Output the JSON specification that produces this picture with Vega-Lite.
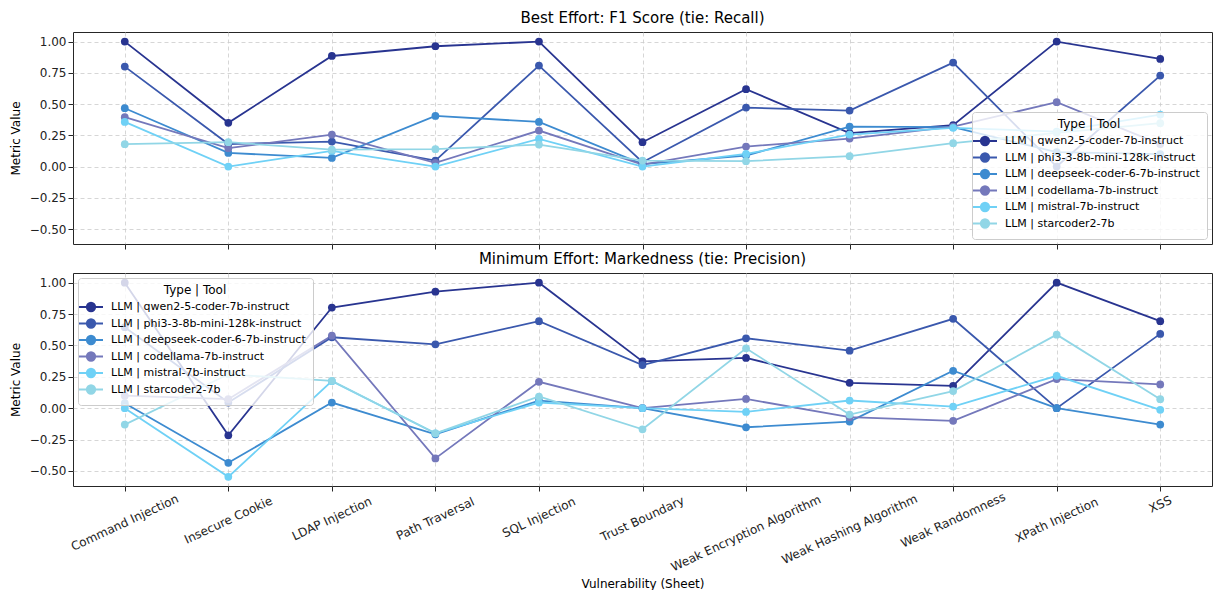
{
  "$schema": "https://vega.github.io/schema/vega-lite/v6.json",
  "background": "white",
  "padding": {"left": 8, "top": 10, "right": 0, "bottom": 0},
  "spacing": 1,
  "datasets": {
    "f1": [
      {"tool": "LLM | qwen2-5-coder-7b-instruct", "vuln": "Command Injection", "value": 1.0},
      {"tool": "LLM | qwen2-5-coder-7b-instruct", "vuln": "Insecure Cookie", "value": 0.35},
      {"tool": "LLM | qwen2-5-coder-7b-instruct", "vuln": "LDAP Injection", "value": 0.885},
      {"tool": "LLM | qwen2-5-coder-7b-instruct", "vuln": "Path Traversal", "value": 0.963},
      {"tool": "LLM | qwen2-5-coder-7b-instruct", "vuln": "SQL Injection", "value": 1.0},
      {"tool": "LLM | qwen2-5-coder-7b-instruct", "vuln": "Trust Boundary", "value": 0.195},
      {"tool": "LLM | qwen2-5-coder-7b-instruct", "vuln": "Weak Encryption Algorithm", "value": 0.619},
      {"tool": "LLM | qwen2-5-coder-7b-instruct", "vuln": "Weak Hashing Algorithm", "value": 0.267},
      {"tool": "LLM | qwen2-5-coder-7b-instruct", "vuln": "Weak Randomness", "value": 0.331},
      {"tool": "LLM | qwen2-5-coder-7b-instruct", "vuln": "XPath Injection", "value": 1.0},
      {"tool": "LLM | qwen2-5-coder-7b-instruct", "vuln": "XSS", "value": 0.861},
      {"tool": "LLM | phi3-3-8b-mini-128k-instruct", "vuln": "Command Injection", "value": 0.8},
      {"tool": "LLM | phi3-3-8b-mini-128k-instruct", "vuln": "Insecure Cookie", "value": 0.18},
      {"tool": "LLM | phi3-3-8b-mini-128k-instruct", "vuln": "LDAP Injection", "value": 0.2},
      {"tool": "LLM | phi3-3-8b-mini-128k-instruct", "vuln": "Path Traversal", "value": 0.048},
      {"tool": "LLM | phi3-3-8b-mini-128k-instruct", "vuln": "SQL Injection", "value": 0.808},
      {"tool": "LLM | phi3-3-8b-mini-128k-instruct", "vuln": "Trust Boundary", "value": 0.035},
      {"tool": "LLM | phi3-3-8b-mini-128k-instruct", "vuln": "Weak Encryption Algorithm", "value": 0.472},
      {"tool": "LLM | phi3-3-8b-mini-128k-instruct", "vuln": "Weak Hashing Algorithm", "value": 0.448},
      {"tool": "LLM | phi3-3-8b-mini-128k-instruct", "vuln": "Weak Randomness", "value": 0.832},
      {"tool": "LLM | phi3-3-8b-mini-128k-instruct", "vuln": "XPath Injection", "value": 0.0},
      {"tool": "LLM | phi3-3-8b-mini-128k-instruct", "vuln": "XSS", "value": 0.728},
      {"tool": "LLM | deepseek-coder-6-7b-instruct", "vuln": "Command Injection", "value": 0.467},
      {"tool": "LLM | deepseek-coder-6-7b-instruct", "vuln": "Insecure Cookie", "value": 0.109},
      {"tool": "LLM | deepseek-coder-6-7b-instruct", "vuln": "LDAP Injection", "value": 0.069},
      {"tool": "LLM | deepseek-coder-6-7b-instruct", "vuln": "Path Traversal", "value": 0.405},
      {"tool": "LLM | deepseek-coder-6-7b-instruct", "vuln": "SQL Injection", "value": 0.357},
      {"tool": "LLM | deepseek-coder-6-7b-instruct", "vuln": "Trust Boundary", "value": 0.02},
      {"tool": "LLM | deepseek-coder-6-7b-instruct", "vuln": "Weak Encryption Algorithm", "value": 0.088},
      {"tool": "LLM | deepseek-coder-6-7b-instruct", "vuln": "Weak Hashing Algorithm", "value": 0.32},
      {"tool": "LLM | deepseek-coder-6-7b-instruct", "vuln": "Weak Randomness", "value": 0.315},
      {"tool": "LLM | deepseek-coder-6-7b-instruct", "vuln": "XPath Injection", "value": 0.115},
      {"tool": "LLM | deepseek-coder-6-7b-instruct", "vuln": "XSS", "value": 0.1},
      {"tool": "LLM | codellama-7b-instruct", "vuln": "Command Injection", "value": 0.395},
      {"tool": "LLM | codellama-7b-instruct", "vuln": "Insecure Cookie", "value": 0.147},
      {"tool": "LLM | codellama-7b-instruct", "vuln": "LDAP Injection", "value": 0.256},
      {"tool": "LLM | codellama-7b-instruct", "vuln": "Path Traversal", "value": 0.03},
      {"tool": "LLM | codellama-7b-instruct", "vuln": "SQL Injection", "value": 0.288},
      {"tool": "LLM | codellama-7b-instruct", "vuln": "Trust Boundary", "value": 0.016},
      {"tool": "LLM | codellama-7b-instruct", "vuln": "Weak Encryption Algorithm", "value": 0.16},
      {"tool": "LLM | codellama-7b-instruct", "vuln": "Weak Hashing Algorithm", "value": 0.224},
      {"tool": "LLM | codellama-7b-instruct", "vuln": "Weak Randomness", "value": 0.32},
      {"tool": "LLM | codellama-7b-instruct", "vuln": "XPath Injection", "value": 0.515},
      {"tool": "LLM | codellama-7b-instruct", "vuln": "XSS", "value": 0.18},
      {"tool": "LLM | mistral-7b-instruct", "vuln": "Command Injection", "value": 0.357},
      {"tool": "LLM | mistral-7b-instruct", "vuln": "Insecure Cookie", "value": 0.0},
      {"tool": "LLM | mistral-7b-instruct", "vuln": "LDAP Injection", "value": 0.125},
      {"tool": "LLM | mistral-7b-instruct", "vuln": "Path Traversal", "value": 0.0},
      {"tool": "LLM | mistral-7b-instruct", "vuln": "SQL Injection", "value": 0.221},
      {"tool": "LLM | mistral-7b-instruct", "vuln": "Trust Boundary", "value": 0.0},
      {"tool": "LLM | mistral-7b-instruct", "vuln": "Weak Encryption Algorithm", "value": 0.101},
      {"tool": "LLM | mistral-7b-instruct", "vuln": "Weak Hashing Algorithm", "value": 0.256},
      {"tool": "LLM | mistral-7b-instruct", "vuln": "Weak Randomness", "value": 0.31},
      {"tool": "LLM | mistral-7b-instruct", "vuln": "XPath Injection", "value": 0.28},
      {"tool": "LLM | mistral-7b-instruct", "vuln": "XSS", "value": 0.416},
      {"tool": "LLM | starcoder2-7b", "vuln": "Command Injection", "value": 0.179},
      {"tool": "LLM | starcoder2-7b", "vuln": "Insecure Cookie", "value": 0.195},
      {"tool": "LLM | starcoder2-7b", "vuln": "LDAP Injection", "value": 0.135},
      {"tool": "LLM | starcoder2-7b", "vuln": "Path Traversal", "value": 0.139},
      {"tool": "LLM | starcoder2-7b", "vuln": "SQL Injection", "value": 0.176},
      {"tool": "LLM | starcoder2-7b", "vuln": "Trust Boundary", "value": 0.048},
      {"tool": "LLM | starcoder2-7b", "vuln": "Weak Encryption Algorithm", "value": 0.043},
      {"tool": "LLM | starcoder2-7b", "vuln": "Weak Hashing Algorithm", "value": 0.083},
      {"tool": "LLM | starcoder2-7b", "vuln": "Weak Randomness", "value": 0.187},
      {"tool": "LLM | starcoder2-7b", "vuln": "XPath Injection", "value": 0.27},
      {"tool": "LLM | starcoder2-7b", "vuln": "XSS", "value": 0.347}
    ],
    "mk": [
      {"tool": "LLM | qwen2-5-coder-7b-instruct", "vuln": "Command Injection", "value": 1.0},
      {"tool": "LLM | qwen2-5-coder-7b-instruct", "vuln": "Insecure Cookie", "value": -0.216},
      {"tool": "LLM | qwen2-5-coder-7b-instruct", "vuln": "LDAP Injection", "value": 0.802},
      {"tool": "LLM | qwen2-5-coder-7b-instruct", "vuln": "Path Traversal", "value": 0.928},
      {"tool": "LLM | qwen2-5-coder-7b-instruct", "vuln": "SQL Injection", "value": 1.0},
      {"tool": "LLM | qwen2-5-coder-7b-instruct", "vuln": "Trust Boundary", "value": 0.373},
      {"tool": "LLM | qwen2-5-coder-7b-instruct", "vuln": "Weak Encryption Algorithm", "value": 0.4},
      {"tool": "LLM | qwen2-5-coder-7b-instruct", "vuln": "Weak Hashing Algorithm", "value": 0.202},
      {"tool": "LLM | qwen2-5-coder-7b-instruct", "vuln": "Weak Randomness", "value": 0.178},
      {"tool": "LLM | qwen2-5-coder-7b-instruct", "vuln": "XPath Injection", "value": 1.0},
      {"tool": "LLM | qwen2-5-coder-7b-instruct", "vuln": "XSS", "value": 0.693},
      {"tool": "LLM | phi3-3-8b-mini-128k-instruct", "vuln": "Command Injection", "value": 0.645},
      {"tool": "LLM | phi3-3-8b-mini-128k-instruct", "vuln": "Insecure Cookie", "value": 0.045},
      {"tool": "LLM | phi3-3-8b-mini-128k-instruct", "vuln": "LDAP Injection", "value": 0.565},
      {"tool": "LLM | phi3-3-8b-mini-128k-instruct", "vuln": "Path Traversal", "value": 0.509},
      {"tool": "LLM | phi3-3-8b-mini-128k-instruct", "vuln": "SQL Injection", "value": 0.693},
      {"tool": "LLM | phi3-3-8b-mini-128k-instruct", "vuln": "Trust Boundary", "value": 0.344},
      {"tool": "LLM | phi3-3-8b-mini-128k-instruct", "vuln": "Weak Encryption Algorithm", "value": 0.557},
      {"tool": "LLM | phi3-3-8b-mini-128k-instruct", "vuln": "Weak Hashing Algorithm", "value": 0.458},
      {"tool": "LLM | phi3-3-8b-mini-128k-instruct", "vuln": "Weak Randomness", "value": 0.712},
      {"tool": "LLM | phi3-3-8b-mini-128k-instruct", "vuln": "XPath Injection", "value": 0.0},
      {"tool": "LLM | phi3-3-8b-mini-128k-instruct", "vuln": "XSS", "value": 0.592},
      {"tool": "LLM | deepseek-coder-6-7b-instruct", "vuln": "Command Injection", "value": 0.04},
      {"tool": "LLM | deepseek-coder-6-7b-instruct", "vuln": "Insecure Cookie", "value": -0.435},
      {"tool": "LLM | deepseek-coder-6-7b-instruct", "vuln": "LDAP Injection", "value": 0.045},
      {"tool": "LLM | deepseek-coder-6-7b-instruct", "vuln": "Path Traversal", "value": -0.208},
      {"tool": "LLM | deepseek-coder-6-7b-instruct", "vuln": "SQL Injection", "value": 0.06},
      {"tool": "LLM | deepseek-coder-6-7b-instruct", "vuln": "Trust Boundary", "value": 0.0},
      {"tool": "LLM | deepseek-coder-6-7b-instruct", "vuln": "Weak Encryption Algorithm", "value": -0.152},
      {"tool": "LLM | deepseek-coder-6-7b-instruct", "vuln": "Weak Hashing Algorithm", "value": -0.107},
      {"tool": "LLM | deepseek-coder-6-7b-instruct", "vuln": "Weak Randomness", "value": 0.298},
      {"tool": "LLM | deepseek-coder-6-7b-instruct", "vuln": "XPath Injection", "value": 0.0},
      {"tool": "LLM | deepseek-coder-6-7b-instruct", "vuln": "XSS", "value": -0.131},
      {"tool": "LLM | codellama-7b-instruct", "vuln": "Command Injection", "value": 0.1},
      {"tool": "LLM | codellama-7b-instruct", "vuln": "Insecure Cookie", "value": 0.072},
      {"tool": "LLM | codellama-7b-instruct", "vuln": "LDAP Injection", "value": 0.578},
      {"tool": "LLM | codellama-7b-instruct", "vuln": "Path Traversal", "value": -0.4},
      {"tool": "LLM | codellama-7b-instruct", "vuln": "SQL Injection", "value": 0.21},
      {"tool": "LLM | codellama-7b-instruct", "vuln": "Trust Boundary", "value": 0.0},
      {"tool": "LLM | codellama-7b-instruct", "vuln": "Weak Encryption Algorithm", "value": 0.074},
      {"tool": "LLM | codellama-7b-instruct", "vuln": "Weak Hashing Algorithm", "value": -0.072},
      {"tool": "LLM | codellama-7b-instruct", "vuln": "Weak Randomness", "value": -0.101},
      {"tool": "LLM | codellama-7b-instruct", "vuln": "XPath Injection", "value": 0.232},
      {"tool": "LLM | codellama-7b-instruct", "vuln": "XSS", "value": 0.189},
      {"tool": "LLM | mistral-7b-instruct", "vuln": "Command Injection", "value": 0.0},
      {"tool": "LLM | mistral-7b-instruct", "vuln": "Insecure Cookie", "value": -0.547},
      {"tool": "LLM | mistral-7b-instruct", "vuln": "LDAP Injection", "value": 0.215},
      {"tool": "LLM | mistral-7b-instruct", "vuln": "Path Traversal", "value": -0.2},
      {"tool": "LLM | mistral-7b-instruct", "vuln": "SQL Injection", "value": 0.045},
      {"tool": "LLM | mistral-7b-instruct", "vuln": "Trust Boundary", "value": 0.0},
      {"tool": "LLM | mistral-7b-instruct", "vuln": "Weak Encryption Algorithm", "value": -0.03},
      {"tool": "LLM | mistral-7b-instruct", "vuln": "Weak Hashing Algorithm", "value": 0.061},
      {"tool": "LLM | mistral-7b-instruct", "vuln": "Weak Randomness", "value": 0.013},
      {"tool": "LLM | mistral-7b-instruct", "vuln": "XPath Injection", "value": 0.258},
      {"tool": "LLM | mistral-7b-instruct", "vuln": "XSS", "value": -0.013},
      {"tool": "LLM | starcoder2-7b", "vuln": "Command Injection", "value": -0.131},
      {"tool": "LLM | starcoder2-7b", "vuln": "Insecure Cookie", "value": 0.27},
      {"tool": "LLM | starcoder2-7b", "vuln": "LDAP Injection", "value": 0.218},
      {"tool": "LLM | starcoder2-7b", "vuln": "Path Traversal", "value": -0.2},
      {"tool": "LLM | starcoder2-7b", "vuln": "SQL Injection", "value": 0.093},
      {"tool": "LLM | starcoder2-7b", "vuln": "Trust Boundary", "value": -0.168},
      {"tool": "LLM | starcoder2-7b", "vuln": "Weak Encryption Algorithm", "value": 0.477},
      {"tool": "LLM | starcoder2-7b", "vuln": "Weak Hashing Algorithm", "value": -0.051},
      {"tool": "LLM | starcoder2-7b", "vuln": "Weak Randomness", "value": 0.136},
      {"tool": "LLM | starcoder2-7b", "vuln": "XPath Injection", "value": 0.586},
      {"tool": "LLM | starcoder2-7b", "vuln": "XSS", "value": 0.072}
    ]
  },
  "resolve": {"scale": {"color": "independent"}, "legend": {"color": "independent"}},
  "vconcat": [
    {
      "data": {"name": "f1"},
      "title": {"text": "Best Effort: F1 Score (tie: Recall)"},
      "width": 1139,
      "height": 212,
      "encoding": {
        "x": {
          "field": "vuln", "type": "nominal",
          "scale": {"type": "point", "padding": 0.5, "domain": ["Command Injection", "Insecure Cookie", "LDAP Injection", "Path Traversal", "SQL Injection", "Trust Boundary", "Weak Encryption Algorithm", "Weak Hashing Algorithm", "Weak Randomness", "XPath Injection", "XSS"]},
          "axis": {"labels": false, "title": null}
        },
        "y": {
          "field": "value", "type": "quantitative",
          "scale": {"domain": [-0.62, 1.077], "nice": false, "zero": false},
          "axis": {"title": "Metric Value", "values": [-0.5, -0.25, 0, 0.25, 0.5, 0.75, 1], "format": ".2f"}
        },
        "color": {
          "field": "tool", "type": "nominal",
          "scale": {
            "domain": ["LLM | qwen2-5-coder-7b-instruct", "LLM | phi3-3-8b-mini-128k-instruct", "LLM | deepseek-coder-6-7b-instruct", "LLM | codellama-7b-instruct", "LLM | mistral-7b-instruct", "LLM | starcoder2-7b"],
            "range": ["#283490", "#3a58ad", "#3d8bd0", "#7478bb", "#6fd1f6", "#91d6e6"]
          },
          "legend": {"title": "Type | Tool", "orient": "bottom-right"}
        }
      },
      "layer": [
        {"mark": {"type": "line", "strokeWidth": 1.8}},
        {"mark": {"type": "point", "filled": true, "size": 60, "opacity": 1}}
      ]
    },
    {
      "data": {"name": "mk"},
      "title": {"text": "Minimum Effort: Markedness (tie: Precision)"},
      "width": 1139,
      "height": 213,
      "encoding": {
        "x": {
          "field": "vuln", "type": "nominal",
          "scale": {"type": "point", "padding": 0.5, "domain": ["Command Injection", "Insecure Cookie", "LDAP Injection", "Path Traversal", "SQL Injection", "Trust Boundary", "Weak Encryption Algorithm", "Weak Hashing Algorithm", "Weak Randomness", "XPath Injection", "XSS"]},
          "axis": {"labels": false, "title": "Vulnerability (Sheet)", "titlePadding": 87}
        },
        "y": {
          "field": "value", "type": "quantitative",
          "scale": {"domain": [-0.62, 1.077], "nice": false, "zero": false},
          "axis": {"title": "Metric Value", "values": [-0.5, -0.25, 0, 0.25, 0.5, 0.75, 1], "format": ".2f"}
        }
      },
      "layer": [
        {
          "mark": {"type": "line", "strokeWidth": 1.8},
          "encoding": {
            "color": {
              "field": "tool", "type": "nominal",
              "scale": {
                "domain": ["LLM | qwen2-5-coder-7b-instruct", "LLM | phi3-3-8b-mini-128k-instruct", "LLM | deepseek-coder-6-7b-instruct", "LLM | codellama-7b-instruct", "LLM | mistral-7b-instruct", "LLM | starcoder2-7b"],
                "range": ["#283490", "#3a58ad", "#3d8bd0", "#7478bb", "#6fd1f6", "#91d6e6"]
              },
              "legend": {"title": "Type | Tool", "orient": "top-left"}
            }
          }
        },
        {
          "mark": {"type": "point", "filled": true, "size": 60, "opacity": 1},
          "encoding": {
            "color": {"field": "tool", "type": "nominal", "legend": {"title": "Type | Tool", "orient": "top-left"}}
          }
        },
        {
          "transform": [{"filter": {"field": "tool", "equal": "LLM | qwen2-5-coder-7b-instruct"}}],
          "mark": {
            "type": "text",
            "angle": 335,
            "align": "center",
            "baseline": "middle",
            "fontSize": 12,
            "color": "#222222",
            "dx": {"expr": "-0.4226*(14.45+1.31*length(datum.vuln))"},
            "dy": {"expr": "0.906*(14.45+1.31*length(datum.vuln))"}
          },
          "encoding": {
            "y": {"datum": -0.62, "type": "quantitative"},
            "text": {"field": "vuln", "type": "nominal"}
          }
        }
      ]
    }
  ],
  "config": {
    "font": "DejaVu Sans",
    "view": {"stroke": "#262626", "strokeWidth": 1},
    "title": {"fontSize": 15, "fontWeight": "normal", "color": "#000000", "offset": 6, "anchor": "middle"},
    "axis": {
      "domain": false,
      "grid": true,
      "gridColor": "#cccccc",
      "gridDash": [4, 3],
      "gridWidth": 0.8,
      "ticks": true,
      "tickColor": "#262626",
      "tickSize": 5,
      "tickWidth": 1,
      "labelFontSize": 12,
      "labelColor": "#222222",
      "labelPadding": 2,
      "titleFontSize": 12,
      "titleFontWeight": "normal",
      "titleColor": "#000000",
      "titlePadding": 7
    },
    "legend": {
      "titleFontSize": 12,
      "titleFontWeight": "normal",
      "titleColor": "#000000",
      "titleAnchor": "middle",
      "titlePadding": 4,
      "labelFontSize": 11,
      "labelColor": "#000000",
      "labelLimit": 400,
      "fillColor": "rgba(255,255,255,0.8)",
      "strokeColor": "#cccccc",
      "cornerRadius": 3,
      "padding": 7,
      "offset": 5,
      "symbolType": "M-2.4,0L2.4,0M-0.85,0A0.85,0.85,0,1,0,0.85,0A0.85,0.85,0,1,0,-0.85,0Z",
      "symbolSize": 100,
      "symbolStrokeWidth": 1.8,
      "symbolOpacity": 1,
      "labelOffset": 14,
      "rowPadding": 0.5
    }
  }
}
